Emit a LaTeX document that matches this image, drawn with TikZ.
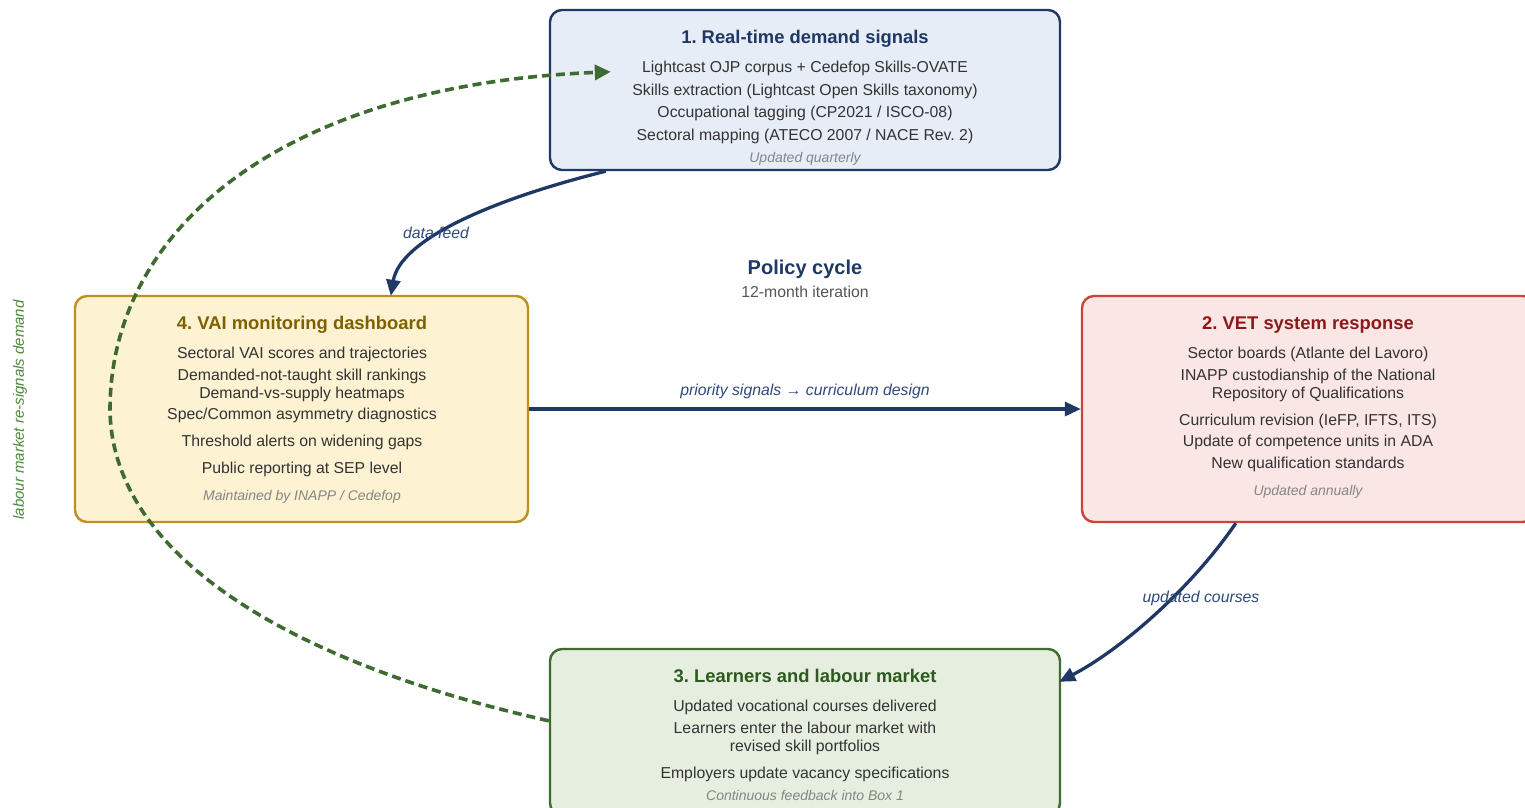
\documentclass[tikz,border=0pt]{standalone}
\usepackage{fontspec}
\setmainfont{Liberation Sans}
\usetikzlibrary{arrows.meta,calc}
\definecolor{navy}{HTML}{1F3864}
\definecolor{navylbl}{HTML}{2E4A7D}
\definecolor{b1fill}{HTML}{E6EDF7}
\definecolor{b4fill}{HTML}{FDF2D2}
\definecolor{b4draw}{HTML}{BF9020}
\definecolor{b4title}{HTML}{7F6000}
\definecolor{b2fill}{HTML}{FAE6E5}
\definecolor{b2draw}{HTML}{C9453A}
\definecolor{b2title}{HTML}{8B1A1A}
\definecolor{b3fill}{HTML}{E6EEE0}
\definecolor{b3draw}{HTML}{3E6B30}
\definecolor{b3title}{HTML}{2D5A1E}
\definecolor{gdash}{HTML}{3E6B30}
\definecolor{glabel}{HTML}{4A8A3A}
\definecolor{bodytxt}{HTML}{333333}
\definecolor{foottxt}{HTML}{858585}
\definecolor{subtxt}{HTML}{555555}
\frenchspacing
\begin{document}
\begin{tikzpicture}[x=1pt,y=-1pt,
  box/.style={draw, rounded corners=12pt, line width=2.4pt, inner sep=0pt, minimum width=#1},
  ttl/.style={anchor=base, font=\fontsize{18.4}{22}\selectfont\bfseries},
  body/.style={anchor=base, text=bodytxt, font=\fontsize{15.8}{19}\selectfont, inner sep=0pt},
  foot/.style={anchor=base, text=foottxt, font=\fontsize{14}{17}\selectfont\itshape, inner sep=0pt},
  elabel/.style={anchor=base, text=navylbl, font=\fontsize{15.8}{19}\selectfont\itshape, inner sep=0pt},
  flow/.style={draw=navy, line width=3.3pt, -{Triangle[length=16pt,width=14pt]}},
  feedback/.style={draw=gdash, line width=3.6pt, dash pattern=on 9pt off 5pt, -{Triangle[length=16pt,width=15pt]}}
]
\clip (0,0) rectangle (1525,807);
\fill[white] (0,0) rectangle (1525,807);

% boxes
\node[box=510pt, minimum height=160pt, fill=b1fill, draw=navy] (b1) at (805,90) {};
\node[box=453pt, minimum height=226pt, fill=b4fill, draw=b4draw] (b4) at (301.5,409) {};
\node[box=453pt, minimum height=226pt, fill=b2fill, draw=b2draw] (b2) at (1308.5,409) {};
\node[box=510pt, minimum height=166pt, fill=b3fill, draw=b3draw] (b3) at (805,732) {};

% box 1 text
\node[ttl, text=navy] (b1t) at (805,43.6) {1. Real-time demand signals};
\node[body] (b1a) at (805,72.7) {Lightcast OJP corpus + Cedefop Skills-OVATE};
\node[body] (b1b) at (805,95.4) {Skills extraction (Lightcast Open Skills taxonomy)};
\node[body] (b1c) at (805,117.7) {Occupational tagging (CP2021 / ISCO-08)};
\node[body] (b1d) at (805,140.5) {Sectoral mapping (ATECO 2007 / NACE Rev. 2)};
\node[foot] (b1f) at (805,162) {Updated quarterly};

% box 4 text
\node[ttl, text=b4title] (b4t) at (302,329.6) {4. VAI monitoring dashboard};
\node[body] (b4a) at (302,358.7) {Sectoral VAI scores and trajectories};
\node[body] (b4b) at (302,380.7) {Demanded-not-taught skill rankings};
\node[body] (b4c) at (302,398.7) {Demand-vs-supply heatmaps};
\node[body] (b4d) at (302,419.7) {Spec/Common asymmetry diagnostics};
\node[body] (b4e) at (302,446.7) {Threshold alerts on widening gaps};
\node[body] (b4g) at (302,473.7) {Public reporting at SEP level};
\node[foot] (b4f) at (302,500) {Maintained by INAPP / Cedefop};

% box 2 text
\node[ttl, text=b2title] (b2t) at (1308,329.6) {2. VET system response};
\node[body] (b2a) at (1308,358.7) {Sector boards (Atlante del Lavoro)};
\node[body] (b2b) at (1308,380.7) {INAPP custodianship of the National};
\node[body] (b2c) at (1308,398.7) {Repository of Qualifications};
\node[body] (b2d) at (1308,425.7) {Curriculum revision (IeFP, IFTS, ITS)};
\node[body] (b2e) at (1308,446.7) {Update of competence units in ADA};
\node[body] (b2g) at (1308,468.7) {New qualification standards};
\node[foot] (b2f) at (1308,495) {Updated annually};

% box 3 text
\node[ttl, text=b3title] (b3t) at (805,682.6) {3. Learners and labour market};
\node[body] (b3a) at (805,711.7) {Updated vocational courses delivered};
\node[body] (b3b) at (805,733.7) {Learners enter the labour market with};
\node[body] (b3c) at (805,751.7) {revised skill portfolios};
\node[body] (b3d) at (805,778.7) {Employers update vacancy specifications};
\node[foot] (b3f) at (805,800) {Continuous feedback into Box 1};

% centre
\node[anchor=base, text=navy, font=\fontsize{20}{24}\selectfont\bfseries] (pc) at (805,274.2) {Policy cycle};
\node[anchor=base, text=subtxt, font=\fontsize{15.8}{19}\selectfont] (pcs) at (805,297.7) {12-month iteration};

% connectors
\coordinate (dfs) at ($(b1.south west)+(57,0)$);
\coordinate (dfe) at ($(b4.north west)+(317,1)$);
\draw[flow] (dfs) .. controls (490,200) and (400,240) .. (dfe);
\node[elabel] (dfl) at (436,238.7) {data feed};

\draw[flow] (b4.east) -- (b2.west);
\node[elabel] (psl) at (805,395.7) {priority signals → curriculum design};

\coordinate (ucs) at ($(b2.south west)+(155,0)$);
\coordinate (uce) at ($(b3.north east)+(-2,34)$);
\draw[flow] (ucs) .. controls (1190,590) and (1120,650) .. (uce);
\node[elabel] (ucl) at (1201,602.7) {updated courses};

\coordinate (fbs) at ($(b3.north west)+(0,73)$);
\coordinate (fbm) at (110,410);
\coordinate (fbe) at ($(b1.north west)+(62,63)$);
\draw[feedback] (fbs) .. controls (300,665) and (112,560) .. (fbm)
  .. controls (110,230) and (280,85) .. (fbe);
\node[text=glabel, font=\fontsize{15}{18}\selectfont\itshape, rotate=90, inner sep=0pt] (fbl) at (20,410) {labour market re-signals demand};
\end{tikzpicture}
\end{document}
